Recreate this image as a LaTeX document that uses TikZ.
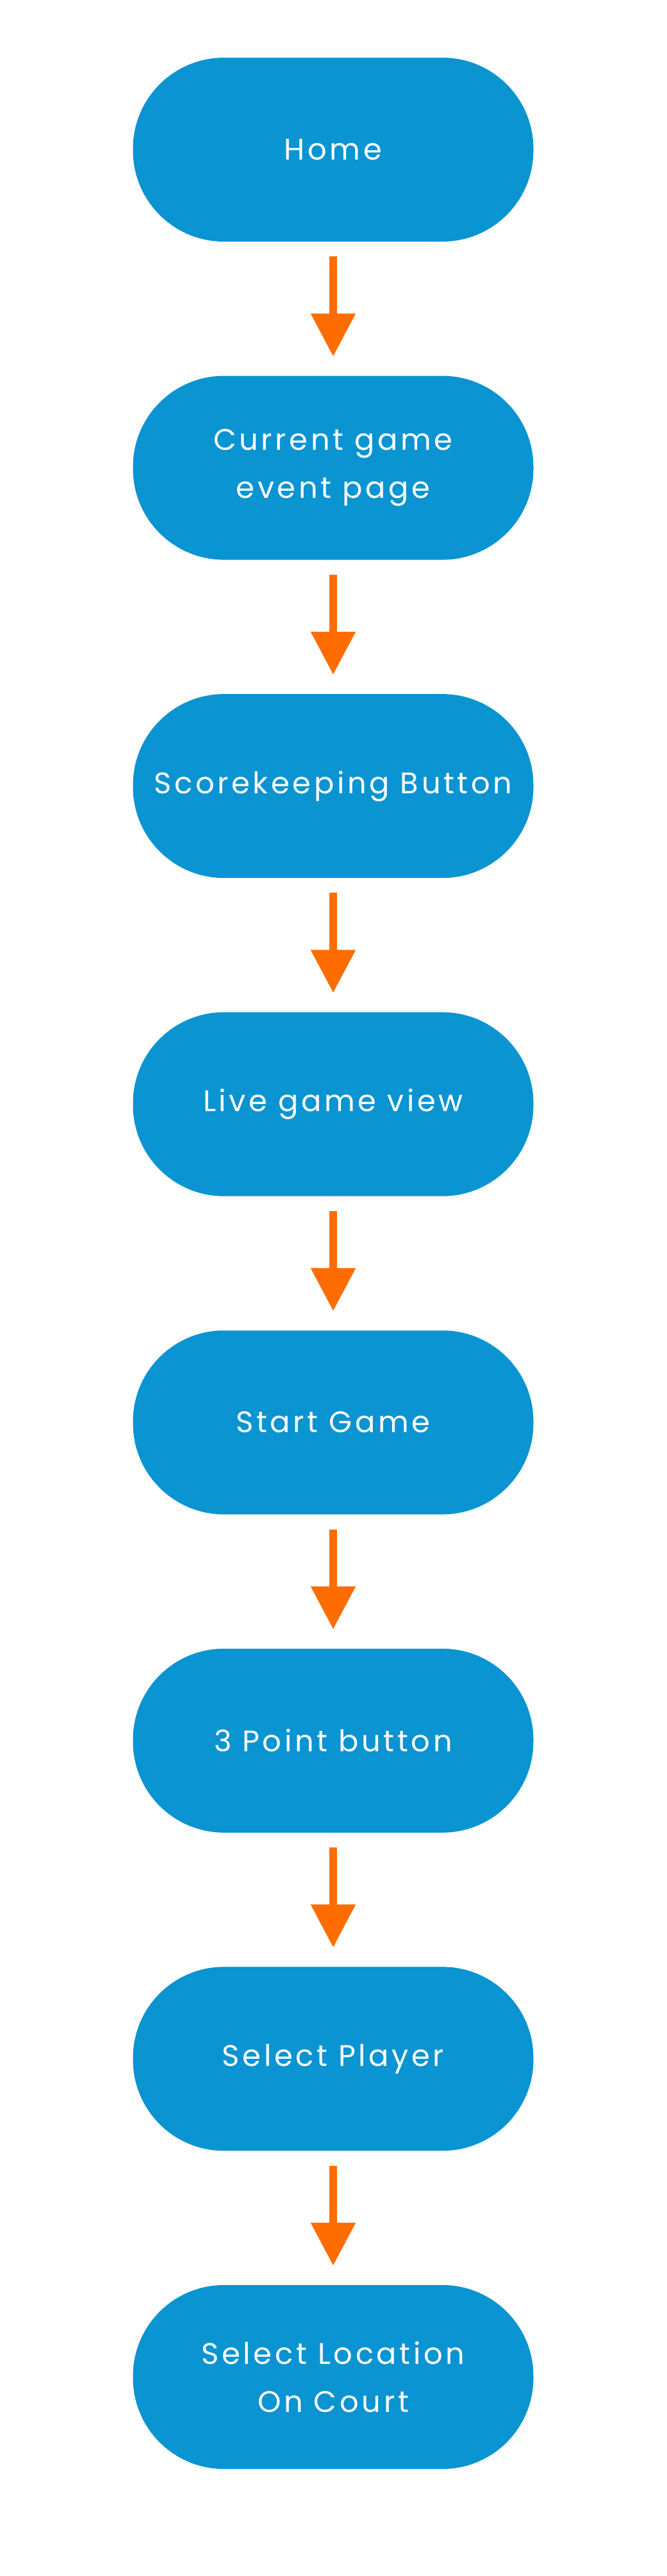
\documentclass[tikz,border=0pt]{standalone}
\usepackage{fontspec}
\setmainfont[LetterSpace=10]{Poppins}
\usepackage{tikz}
\usetikzlibrary{arrows.meta, positioning}
\definecolor{stepblue}{HTML}{0A94D1}
\definecolor{flowarrow}{HTML}{FF6C00}
\tikzstyle{stepbox} = [rectangle, rounded corners=3.55cm, fill=stepblue, text=white, minimum width=15.625cm, minimum height=7.175cm, align=center, font=\fontsize{33}{53}\selectfont]
\tikzstyle{arrow} = [draw=flowarrow, line width=0.3cm, -{Triangle[width=1.675cm, length=1.675cm]}, shorten <=0.575cm, shorten >=0.75cm]

\begin{document}
\begin{tikzpicture}[node distance=5.225cm]
            \useasboundingbox (0,0) rectangle (26,-100.5);
            % The steps
            \node[stepbox] (home) at (13,-5.8375) {Home};
            \node[stepbox] (event_page) [below = of home] {Current game\\event page};
            \node[stepbox] (scorekeeping) [below = of event_page] {Scorekeeping Button};
            \node[stepbox] (live_view) [below = of scorekeeping] {Live game view};
            \node[stepbox] (start_game) [below = of live_view] {Start Game};
            \node[stepbox] (three_point) [below = of start_game] {3 Point button};
            \node[stepbox] (select_player) [below = of three_point] {Select Player};
            \node[stepbox] (select_location) [below = of select_player] {Select Location\\On Court};

            % The arrows
            \draw[arrow] (home) -- (event_page);
            \draw[arrow] (event_page) -- (scorekeeping);
            \draw[arrow] (scorekeeping) -- (live_view);
            \draw[arrow] (live_view) -- (start_game);
            \draw[arrow] (start_game) -- (three_point);
            \draw[arrow] (three_point) -- (select_player);
            \draw[arrow] (select_player) -- (select_location);
        \end{tikzpicture}
\end{document}
